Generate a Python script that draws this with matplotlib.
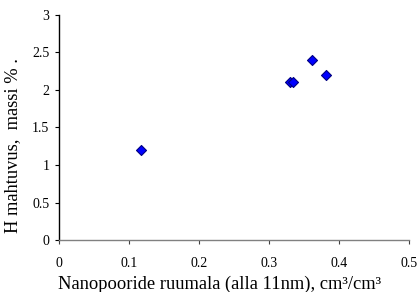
import matplotlib
matplotlib.use("Agg")
import matplotlib.pyplot as plt

x_vals = [0.117, 0.330, 0.335, 0.362, 0.381]
y_vals = [1.2, 2.1, 2.1, 2.4, 2.2]
x_ticks = [0, 0.1, 0.2, 0.3, 0.4, 0.5]
x_ticklabels = ["0", "0.1", "0.2", "0.3", "0.4", "0.5"]
y_ticks = [0, 0.5, 1, 1.5, 2, 2.5, 3]
y_ticklabels = ["0", "0.5", "1", "1.5", "2", "2.5", "3"]

plt.rcParams['font.family'] = ['Liberation Serif', 'DejaVu Serif']

fig = plt.figure(figsize=(4.19, 2.92), dpi=100)
ax = fig.add_axes([0.141, 0.178, 0.835, 0.771])
ax.scatter(x_vals, y_vals, marker='D', s=26, facecolor='#0000FF', edgecolor='#000080', linewidth=0.8, zorder=3, clip_on=False)
ax.set_xlim(0, 0.5)
ax.set_ylim(0, 3)
ax.set_xticks(x_ticks)
ax.set_xticklabels(x_ticklabels)
ax.set_yticks(y_ticks)
ax.set_yticklabels(y_ticklabels)
for s in ['top', 'right']:
    ax.spines[s].set_visible(False)
ax.spines['left'].set_color('black')
ax.spines['bottom'].set_color('#808080')
ax.spines['left'].set_linewidth(1.0)
ax.spines['bottom'].set_linewidth(1.0)
ax.tick_params(axis='both', direction='out', length=3, width=0.8, labelsize=10)
ax.tick_params(axis='x', color='#404040', labelcolor='black', pad=9)
ax.tick_params(axis='y', color='black', pad=4)
ax.set_xlabel("Nanopooride ruumala (alla 11nm), cm³/cm³", fontsize=13.3)
ax.set_ylabel("H mahtuvus,  massi % .", fontsize=13.3)
ax.xaxis.set_label_coords(0.459, -0.157)
ax.yaxis.set_label_coords(-0.11, 0.418)
fig.savefig("out.png", dpi=100)
